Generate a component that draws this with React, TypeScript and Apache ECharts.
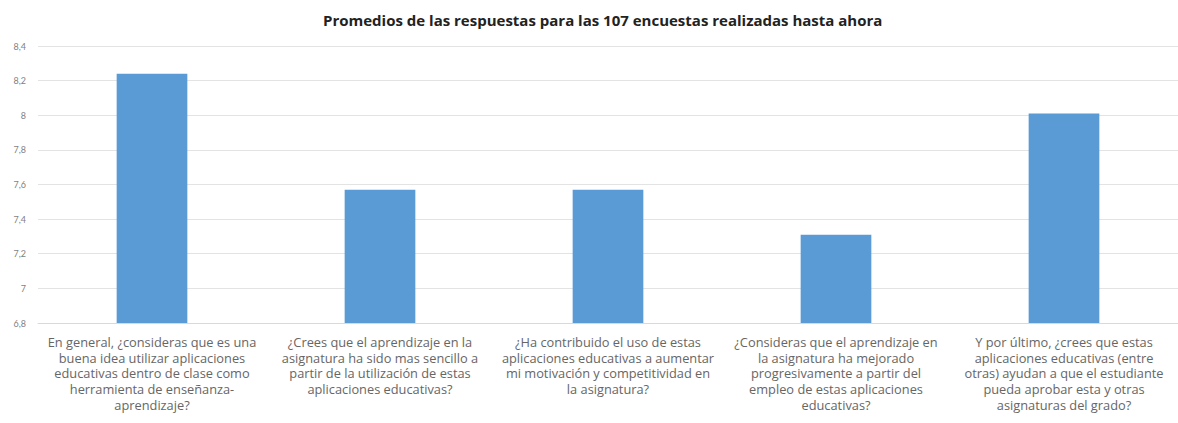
import React, { useEffect, useRef } from "react";
import * as echarts from "echarts";

const titleText = "Promedios de las respuestas para las 107 encuestas realizadas hasta ahora";

const categories: string[] = [
  "En general, ¿consideras que es una\nbuena idea utilizar aplicaciones\neducativas dentro de clase como\nherramienta de enseñanza-\naprendizaje?",
  "¿Crees que el aprendizaje en la\nasignatura ha sido mas sencillo a\npartir de la utilización de estas\naplicaciones educativas?",
  "¿Ha contribuido el uso de estas\naplicaciones educativas a aumentar\nmi motivación y competitividad en\nla asignatura?",
  "¿Consideras que el aprendizaje en\nla asignatura ha mejorado\nprogresivamente a partir del\nempleo de estas aplicaciones\neducativas?",
  "Y por último, ¿crees que estas\naplicaciones educativas (entre\notras) ayudan a que el estudiante\npueda aprobar esta y otras\nasignaturas del grado?",
];

const values: number[] = [8.24, 7.57, 7.57, 7.31, 8.01];

const yMin = 6.8;
const yMax = 8.4;
const yStep = 0.2;

export default function App() {
  const ref = useRef<HTMLDivElement>(null);
  useEffect(() => {
    document.body.style.margin = "0";
    const chart = echarts.init(ref.current!, null, { renderer: "svg" });
    chart.setOption({
      animation: false,
      backgroundColor: "#ffffff",
      title: {
        text: titleText,
        left: 318,
        top: 7,
        textStyle: {
          fontFamily: "Open Sans",
          fontWeight: "bold",
          fontSize: 15,
          color: "#222222",
        },
      },
      grid: { left: 38, right: -4, top: 46, bottom: 100, containLabel: false },
      xAxis: {
        type: "category",
        data: categories,
        axisLine: { show: true, lineStyle: { color: "#d9d9d9", width: 1 } },
        axisTick: { show: false },
        axisLabel: {
          interval: 0,
          margin: 11,
          fontFamily: "Open Sans",
          fontSize: 12.8,
          lineHeight: 15.7,
          color: "#666666",
          align: "center",
        },
      },
      yAxis: {
        type: "value",
        min: yMin,
        max: yMax,
        interval: yStep,
        axisLine: { show: false },
        axisTick: { show: false },
        splitLine: { lineStyle: { color: "#e3e3e3", width: 1 } },
        axisLabel: {
          margin: 12,
          fontFamily: "Lato",
          fontSize: 9,
          color: "#7f7f7f",
          formatter: (v: number) => String(Number(v.toFixed(1))).replace(".", ","),
        },
      },
      series: [
        {
          type: "bar",
          data: values,
          barWidth: "31%",
          itemStyle: { color: "#5b9bd5" },
        },
      ],
    });
    return () => chart.dispose();
  }, []);
  return <div ref={ref} style={{ width: 1178, height: 423 }} />;
}
